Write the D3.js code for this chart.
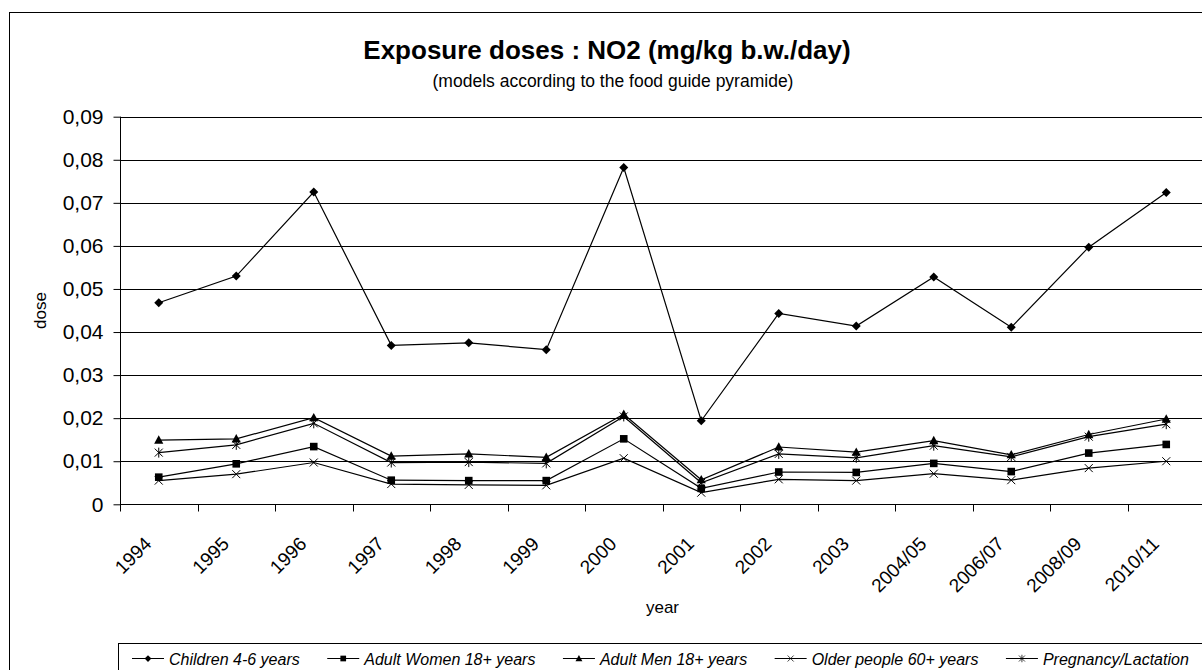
<!DOCTYPE html>
<html>
<head>
<meta charset="utf-8">
<script src="https://cdn.jsdelivr.net/npm/d3@7"></script>
<style>
  body { margin: 0; background: #fff; }
  svg { display: block; font-family: "Liberation Sans", Arial, sans-serif; }
</style>
</head>
<body>
<div id="chart"></div>
<script>
// Data
const years = ["1994", "1995", "1996", "1997", "1998", "1999", "2000", "2001", "2002", "2003", "2004/05", "2006/07", "2008/09", "2010/11"];
const children = [0.0468, 0.0530, 0.0725, 0.0369, 0.0375, 0.0359, 0.0782, 0.0194, 0.0443, 0.0414, 0.0528, 0.0411, 0.0597, 0.0724];
const women = [0.0063, 0.0094, 0.0134, 0.0056, 0.0055, 0.0055, 0.0152, 0.0037, 0.0075, 0.0074, 0.0095, 0.0076, 0.0119, 0.0139];
const men = [0.0149, 0.0152, 0.0201, 0.0112, 0.0117, 0.0109, 0.0209, 0.0057, 0.0133, 0.0121, 0.0148, 0.0115, 0.0162, 0.0198];
const older = [0.0055, 0.0070, 0.0097, 0.0047, 0.0045, 0.0044, 0.0107, 0.0027, 0.0058, 0.0055, 0.0071, 0.0056, 0.0084, 0.0100];
const pregnancy = [0.0120, 0.0138, 0.0188, 0.0097, 0.0098, 0.0095, 0.0204, 0.0050, 0.0117, 0.0108, 0.0136, 0.0110, 0.0157, 0.0186];
const seriesNames = ["Children 4-6 years", "Adult Women 18+ years", "Adult Men 18+ years", "Older people 60+ years", "Pregnancy/Lactation"];
const yTicks = [0, 0.01, 0.02, 0.03, 0.04, 0.05, 0.06, 0.07, 0.08, 0.09];

const width = 1202, height = 670;
const plot = { left: 120, right: 1205, top: 116.7, bottom: 504.3 };

const svg = d3.select("#chart").append("svg")
  .attr("width", width)
  .attr("height", height);

// outer chart frame (cropped at right / bottom)
svg.append("rect")
  .attr("x", 9.5).attr("y", 12.5)
  .attr("width", 1300).attr("height", 700)
  .attr("fill", "none").attr("stroke", "#000");

const x = d3.scaleBand().domain(years).range([plot.left, plot.right]).padding(0);
const y = d3.scaleLinear().domain([0, 0.09]).range([plot.bottom, plot.top]);
const cx = d => x(d) + x.bandwidth() / 2;

const fmt = d3.formatLocale({ decimal: ",", thousands: ".", grouping: [3], currency: ["", ""] }).format(".2f");

// gridlines
svg.append("g")
  .selectAll("line")
  .data(yTicks.slice(1))
  .join("line")
  .attr("x1", plot.left).attr("x2", plot.right)
  .attr("y1", d => Math.round(y(d)) + 0.5).attr("y2", d => Math.round(y(d)) + 0.5)
  .attr("stroke", "#000");

// y axis
const yAxis = svg.append("g")
  .attr("transform", "translate(" + (plot.left + 0.5) + ",0)")
  .call(d3.axisLeft(y).tickValues(yTicks).tickSize(7).tickPadding(10)
    .tickFormat(d => d === 0 ? "0" : fmt(d)));
yAxis.selectAll("text").attr("font-size", 21).attr("font-family", "Liberation Sans, Arial").attr("fill", "#000");
yAxis.selectAll("line, path").attr("stroke", "#000");
yAxis.select(".domain").attr("d", "M0," + plot.top + "V" + plot.bottom);

// x axis
const xAxis = svg.append("g")
  .attr("transform", "translate(0," + (Math.round(plot.bottom) + 0.5) + ")");
xAxis.append("line")
  .attr("x1", plot.left).attr("x2", plot.right)
  .attr("stroke", "#000");
xAxis.selectAll(".tk")
  .data(years)
  .join("line")
  .attr("class", "tk")
  .attr("x1", d => Math.round(x(d)) + 0.5).attr("x2", d => Math.round(x(d)) + 0.5)
  .attr("y1", 0).attr("y2", 7)
  .attr("stroke", "#000");
svg.append("g")
  .selectAll("text")
  .data(years)
  .join("text")
  .attr("transform", d => "translate(" + (cx(d) - 6) + "," + 545 + ") rotate(-45)")
  .attr("text-anchor", "end")
  .attr("font-size", 19)
  .text(d => d);

// titles
svg.append("text")
  .attr("x", 607).attr("y", 59)
  .attr("text-anchor", "middle")
  .attr("font-size", 26).attr("font-weight", "bold")
  .text("Exposure doses : NO2 (mg/kg b.w./day)");
svg.append("text")
  .attr("x", 613).attr("y", 87)
  .attr("text-anchor", "middle")
  .attr("font-size", 17.5)
  .text("(models according to the food guide pyramide)");
svg.append("text")
  .attr("transform", "translate(46," + ((plot.top + plot.bottom) / 2) + ") rotate(-90)")
  .attr("text-anchor", "middle")
  .attr("font-size", 17)
  .text("dose");
svg.append("text")
  .attr("x", (plot.left + plot.right) / 2).attr("y", 613)
  .attr("text-anchor", "middle")
  .attr("font-size", 17)
  .text("year");

// marker shapes
const markers = [
  g => g.append("path").attr("d", "M0,-4.5L4.5,0L0,4.5L-4.5,0Z").attr("fill", "#000"),
  g => g.append("path").attr("d", "M-3.8,-3.8H3.8V3.8H-3.8Z").attr("fill", "#000"),
  g => g.append("path").attr("d", "M0,-4.8L4.6,3.6H-4.6Z").attr("fill", "#000"),
  g => g.append("path").attr("d", "M-4,-4L4,4M-4,4L4,-4").attr("stroke", "#000").attr("fill", "none"),
  g => g.append("path").attr("d", "M-4,-4L4,4M-4,4L4,-4M0,-5V5").attr("stroke", "#000").attr("fill", "none")
];

const allSeries = [children, women, men, older, pregnancy];

const line = d3.line()
  .x((d, i) => cx(years[i]))
  .y(d => y(d));

allSeries.forEach(function (vals, k) {
  svg.append("path")
    .datum(vals)
    .attr("d", line)
    .attr("fill", "none")
    .attr("stroke", "#000")
    .attr("stroke-width", 1.2);
  svg.append("g")
    .selectAll("g")
    .data(vals)
    .join("g")
    .attr("transform", (d, i) => "translate(" + cx(years[i]) + "," + y(d) + ")")
    .each(function () { markers[k](d3.select(this)); });
});

// legend
svg.append("rect")
  .attr("x", 118.5).attr("y", 643.5)
  .attr("width", 1200).attr("height", 60)
  .attr("fill", "#fff").attr("stroke", "#000");

let lx = 132;
const ly = 658.5;
seriesNames.forEach(function (name, k) {
  const g = svg.append("g");
  g.append("line")
    .attr("x1", lx).attr("x2", lx + 32)
    .attr("y1", ly).attr("y2", ly)
    .attr("stroke", "#000");
  const m = g.append("g").attr("transform", "translate(" + (lx + 16) + "," + ly + ") scale(0.75)");
  markers[k](m);
  const t = g.append("text")
    .attr("x", lx + 37).attr("y", ly + 6)
    .attr("font-size", 16).attr("font-style", "italic")
    .text(name);
  lx += 37 + t.node().getComputedTextLength() + 27.5;
});
</script>
</body>
</html>
